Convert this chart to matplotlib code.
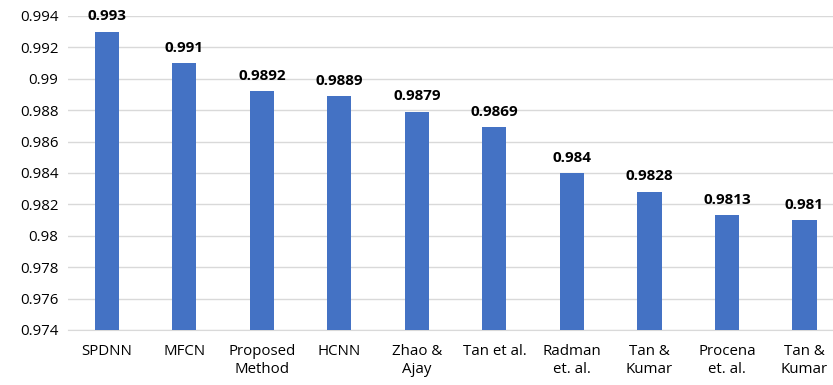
import matplotlib.pyplot as plt

methods = ['SPDNN', 'MFCN', 'Proposed\nMethod', 'HCNN', 'Zhao &\nAjay', 'Tan et al.',
           'Radman\net. al.', 'Tan &\nKumar', 'Procena\net. al.', 'Tan &\nKumar']
scores = [0.993, 0.991, 0.9892, 0.9889, 0.9879, 0.9869, 0.984, 0.9828, 0.9813, 0.981]
yticks = [0.974, 0.976, 0.978, 0.98, 0.982, 0.984, 0.986, 0.988, 0.99, 0.992, 0.994]
ytick_labels = ['0.974', '0.976', '0.978', '0.98', '0.982', '0.984', '0.986', '0.988', '0.99', '0.992', '0.994']

plt.rcParams['font.family'] = ['Open Sans', 'DejaVu Sans']

fig = plt.figure(figsize=(8.33, 3.85), dpi=100)
# plot area runs past the right edge, as in the cropped original
ax = fig.add_axes([0.0819, 0.143, 0.9304, 0.8156])

x = range(len(methods))
ax.bar(x, scores, width=0.31, color='#4472C4', zorder=3)
for xi, v in zip(x, scores):
    ax.annotate(f'{v:g}', (xi, v), xytext=(0, 6), textcoords='offset points',
                ha='center', va='bottom', fontsize=11, fontweight='bold', color='black')

ax.set_ylim(0.974, 0.994)
ax.set_xlim(-0.5, len(methods) - 0.5)
ax.set_yticks(yticks)
ax.set_yticklabels(ytick_labels)
ax.set_xticks(list(x))
ax.set_xticklabels(methods, linespacing=1.3)
ax.tick_params(axis='both', length=0, labelsize=10.8, colors='#000000')
ax.tick_params(axis='x', pad=10)
ax.tick_params(axis='y', pad=7)
ax.grid(axis='y', color='#D9D9D9', linewidth=1, zorder=0)
for s in ['top', 'right', 'left']:
    ax.spines[s].set_visible(False)
ax.spines['bottom'].set_color('#D9D9D9')

fig.savefig('out.png', dpi=100)
